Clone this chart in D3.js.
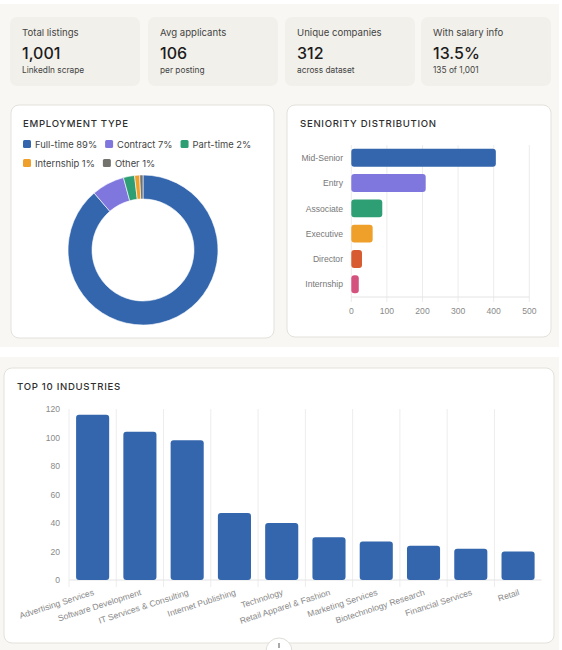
<!DOCTYPE html>
<html>
<head>
<meta charset="utf-8">
<script src="https://cdn.jsdelivr.net/npm/d3@7"></script>
<style>
  html, body { margin: 0; padding: 0; background: #fff; }
  svg { display: block; font-family: Inter, "Noto Sans", sans-serif; }
  .tick-label { font-family: "Liberation Sans", Arial, sans-serif; fill: #8a8a8a; font-size: 8.6px; }
  .card-title { font-size: 9.6px; font-weight: 500; letter-spacing: 0.7px; fill: #2f2f2f; }
</style>
</head>
<body>
<svg id="dash" width="562" height="650"></svg>
<script>
// ---- data ----
const statLabels = ["Total listings", "Avg applicants", "Unique companies", "With salary info"];
const statValues = ["1,001", "106", "312", "13.5%"];
const statSubs = ["LinkedIn scrape", "per posting", "across dataset", "135 of 1,001"];

const empTypes = ["Full-time", "Contract", "Part-time", "Internship", "Other"];
const empCounts = [888, 71, 24, 11, 7];
const empColors = ["#3366ad", "#7f77dd", "#2e9e75", "#efa02b", "#73726c"];

const seniorityLevels = ["Mid-Senior", "Entry", "Associate", "Executive", "Director", "Internship"];
const seniorityCounts = [406, 209, 87, 60, 30, 21];
const seniorityColors = ["#3366ad", "#7f77dd", "#2e9e75", "#efa02b", "#d85a30", "#d4537e"];
const seniorityTicks = [0, 100, 200, 300, 400, 500];

const industries = ["Advertising Services", "Software Development", "IT Services & Consulting",
  "Internet Publishing", "Technology", "Retail Apparel & Fashion", "Marketing Services",
  "Biotechnology Research", "Financial Services", "Retail"];
const industryCounts = [116, 104, 98, 47, 40, 30, 27, 24, 22, 20];
const industryTicks = [0, 20, 40, 60, 80, 100, 120];

const svg = d3.select("#dash");

// ---- page background ----
svg.append("rect").attr("x", 0).attr("y", 4).attr("width", 559).attr("height", 343).attr("fill", "#f8f7f3");
svg.append("rect").attr("x", 0).attr("y", 357).attr("width", 559).attr("height", 293).attr("fill", "#f8f7f3");

// ---- stat cards ----
const statX = [10, 148, 285, 421];
const statW = 130;
statLabels.forEach((lab, i) => {
  const g = svg.append("g").attr("transform", `translate(${statX[i]},17)`);
  g.append("rect").attr("width", statW).attr("height", 69).attr("rx", 7).attr("fill", "#f1f0ea");
  g.append("text").attr("x", 12).attr("y", 19).attr("font-size", 9.6).attr("fill", "#444").text(lab);
  g.append("text").attr("x", 12).attr("y", 42).attr("font-size", 16).attr("font-weight", 500)
    .attr("fill", "#1c1c1c").text(statValues[i]);
  g.append("text").attr("x", 12).attr("y", 56).attr("font-size", 8.3).attr("fill", "#444").text(statSubs[i]);
});

function card(x, y, w, h) {
  svg.append("rect").attr("x", x).attr("y", y).attr("width", w).attr("height", h)
    .attr("rx", 8).attr("fill", "#fff").attr("stroke", "#e3e1db").attr("stroke-width", 1);
}

// ---- employment type donut ----
card(11, 105, 263, 233);
svg.append("text").attr("class", "card-title").attr("x", 23).attr("y", 127).text("EMPLOYMENT TYPE");

const total = d3.sum(empCounts);
const legend = svg.append("g");
let lx = 23, ly = 144;
empTypes.forEach((t, i) => {
  const label = `${t} ${Math.round(empCounts[i] / total * 100)}%`;
  const item = legend.append("g");
  item.append("rect").attr("width", 8).attr("height", 8).attr("rx", 1.5).attr("y", -4).attr("fill", empColors[i]);
  const txt = item.append("text").attr("x", 12).attr("y", 3.5).attr("font-size", 9.4).attr("fill", "#444").text(label);
  const w = 12 + txt.node().getComputedTextLength();
  if (lx + w > 266) { lx = 23; ly += 19; }
  item.attr("transform", `translate(${lx},${ly})`);
  lx += w + 8;
});

const pie = d3.pie().sort(null).value(d => d);
const arc = d3.arc().innerRadius(51).outerRadius(75);
svg.append("g").attr("transform", "translate(143,250)")
  .selectAll("path").data(pie(empCounts)).join("path")
  .attr("d", arc).attr("fill", (d, i) => empColors[i])
  .attr("stroke", "#fff").attr("stroke-width", 0.6);

// ---- seniority bars ----
card(287, 105, 264, 232);
svg.append("text").attr("class", "card-title").attr("x", 300).attr("y", 127).text("SENIORITY DISTRIBUTION");

const sx = d3.scaleLinear().domain([0, 500]).range([351.3, 529.3]);
const sy = d3.scaleBand().domain(seniorityLevels).range([145, 297]).paddingInner(0.29).paddingOuter(0.15);
const sen = svg.append("g");
sen.selectAll("line.grid").data(seniorityTicks).join("line")
  .attr("x1", d => sx(d)).attr("x2", d => sx(d)).attr("y1", 145).attr("y2", 302)
  .attr("stroke", "#ececec");
sen.append("line").attr("x1", sx(0)).attr("x2", sx(500)).attr("y1", 297).attr("y2", 297).attr("stroke", "#e4e4e4");
sen.selectAll("rect.bar").data(seniorityCounts).join("rect")
  .attr("x", sx(0)).attr("y", (d, i) => sy(seniorityLevels[i]))
  .attr("width", d => sx(d) - sx(0)).attr("height", sy.bandwidth())
  .attr("rx", 3).attr("fill", (d, i) => seniorityColors[i]);
sen.selectAll("text.yl").data(seniorityLevels).join("text")
  .attr("class", "tick-label").attr("x", 343).attr("y", d => sy(d) + sy.bandwidth() / 2 + 3.2)
  .attr("text-anchor", "end").style("fill", "#777").text(d => d);
sen.selectAll("text.xl").data(seniorityTicks).join("text")
  .attr("class", "tick-label").attr("x", d => sx(d)).attr("y", 314)
  .attr("text-anchor", "middle").text(d => d);

// ---- top industries ----
card(4, 368, 550, 275);
svg.append("text").attr("class", "card-title").attr("x", 17).attr("y", 390).text("TOP 10 INDUSTRIES");

const ix = d3.scaleBand().domain(industries).range([69, 541.7]).paddingInner(0.3).paddingOuter(0.15);
const iy = d3.scaleLinear().domain([0, 120]).range([580, 409]);
const ind = svg.append("g");
ind.selectAll("line.grid").data(industries).join("line")
  .attr("x1", d => ix(d) - ix.step() * 0.15).attr("x2", d => ix(d) - ix.step() * 0.15)
  .attr("y1", 409).attr("y2", 587)
  .attr("stroke", "#ededed");
ind.append("line").attr("x1", 69).attr("x2", 541.7).attr("y1", 580).attr("y2", 580).attr("stroke", "#e4e4e4");
ind.selectAll("rect.bar").data(industryCounts).join("rect")
  .attr("x", (d, i) => ix(industries[i])).attr("y", d => iy(d))
  .attr("width", ix.bandwidth()).attr("height", d => iy(0) - iy(d))
  .attr("rx", 3).attr("fill", "#3366ad");
ind.selectAll("text.yl").data(industryTicks).join("text")
  .attr("class", "tick-label").attr("x", 60).attr("y", d => iy(d) + 3.2)
  .attr("text-anchor", "end").text(d => d);
ind.selectAll("text.xl").data(industries).join("text")
  .attr("class", "tick-label")
  .attr("transform", d => `translate(${ix(d) + ix.bandwidth() / 2},${589}) rotate(-18)`)
  .attr("text-anchor", "end").attr("dy", "0.7em").text(d => d);

// scroll button peeking at the bottom
svg.append("circle").attr("cx", 279).attr("cy", 651).attr("r", 13)
  .attr("fill", "#fff").attr("stroke", "#e0ded8");
svg.append("line").attr("x1", 279).attr("x2", 279).attr("y1", 643).attr("y2", 648)
  .attr("stroke", "#555").attr("stroke-width", 1);
</script>
</body>
</html>
